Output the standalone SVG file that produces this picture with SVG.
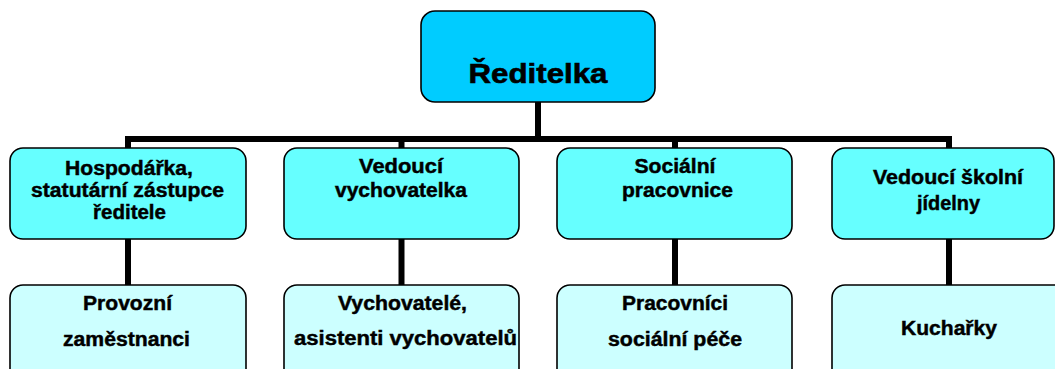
<svg xmlns="http://www.w3.org/2000/svg" width="1055" height="369" viewBox="0 0 1055 369">
<style>
.box{stroke:#000;stroke-width:1.6}
.top{fill:#00CCFF}
.l1{fill:#66FFFF}
.l2{fill:#CCFFFF}
.conn{stroke:#000;stroke-width:6;fill:none}
text{font-family:"Liberation Sans",Arial,sans-serif;font-weight:bold;fill:#000;stroke:#000;stroke-width:0.45;text-anchor:middle}
.t1{font-size:20px}
.t0{font-size:28px;stroke-width:0.6}
</style>
<rect width="1055" height="369" fill="#fff"/>
<g id="connectors">
<line class="conn" x1="538" y1="101" x2="538" y2="139"/>
<line class="conn" x1="125" y1="139" x2="952" y2="139"/>
<line class="conn" x1="128" y1="136" x2="128" y2="149"/>
<line class="conn" x1="401.5" y1="139" x2="401.5" y2="149"/>
<line class="conn" x1="675" y1="139" x2="675" y2="149"/>
<line class="conn" x1="949" y1="136" x2="949" y2="149"/>
<line class="conn" x1="128" y1="238" x2="128" y2="286"/>
<line class="conn" x1="401.5" y1="238" x2="401.5" y2="286"/>
<line class="conn" x1="675" y1="238" x2="675" y2="286"/>
<line class="conn" x1="949" y1="238" x2="949" y2="286"/>
</g>
<g id="reditelka">
<rect class="box top" x="421" y="11" width="234" height="91" rx="14"/>
<text class="t0" x="538" y="83" textLength="139" lengthAdjust="spacingAndGlyphs">Ředitelka</text>
</g>
<g id="hospodarka">
<rect class="box l1" x="10" y="148" width="236" height="91" rx="13"/>
<text class="t1" x="129" y="174.5" textLength="128" lengthAdjust="spacingAndGlyphs">Hospodářka,</text>
<text class="t1" x="127.5" y="196.5" textLength="193" lengthAdjust="spacingAndGlyphs">statutární zástupce</text>
<text class="t1" x="129.5" y="219" textLength="73" lengthAdjust="spacingAndGlyphs">ředitele</text>
</g>
<g id="vedouci-vychovatelka">
<rect class="box l1" x="284" y="148" width="235" height="91" rx="13"/>
<text class="t1" x="401" y="173" textLength="84" lengthAdjust="spacingAndGlyphs">Vedoucí</text>
<text class="t1" x="401" y="197" textLength="132" lengthAdjust="spacingAndGlyphs">vychovatelka</text>
</g>
<g id="socialni-pracovnice">
<rect class="box l1" x="557" y="148" width="235" height="91" rx="13"/>
<text class="t1" x="675" y="173" textLength="81" lengthAdjust="spacingAndGlyphs">Sociální</text>
<text class="t1" x="677.5" y="197" textLength="111" lengthAdjust="spacingAndGlyphs">pracovnice</text>
</g>
<g id="vedouci-jidelny">
<rect class="box l1" x="832" y="148" width="222" height="91" rx="13"/>
<text class="t1" x="948" y="183.5" textLength="150" lengthAdjust="spacingAndGlyphs">Vedoucí školní</text>
<text class="t1" x="948.5" y="209.5" textLength="63" lengthAdjust="spacingAndGlyphs">jídelny</text>
</g>
<g id="provozni">
<rect class="box l2" x="10" y="285" width="236" height="100" rx="13"/>
<text class="t1" x="127.5" y="310" textLength="89" lengthAdjust="spacingAndGlyphs">Provozní</text>
<text class="t1" x="126.5" y="346" textLength="127" lengthAdjust="spacingAndGlyphs">zaměstnanci</text>
</g>
<g id="vychovatele">
<rect class="box l2" x="284" y="285" width="235" height="100" rx="13"/>
<text class="t1" x="402.5" y="310" textLength="129" lengthAdjust="spacingAndGlyphs">Vychovatelé,</text>
<text class="t1" x="405.5" y="345" textLength="223" lengthAdjust="spacingAndGlyphs">asistenti vychovatelů</text>
</g>
<g id="pracovnici">
<rect class="box l2" x="557" y="285" width="235" height="100" rx="13"/>
<text class="t1" x="675" y="310" textLength="106" lengthAdjust="spacingAndGlyphs">Pracovníci</text>
<text class="t1" x="675" y="346" textLength="134" lengthAdjust="spacingAndGlyphs">sociální péče</text>
</g>
<g id="kucharky">
<rect class="box l2" x="832" y="285" width="240" height="100" rx="13"/>
<text class="t1" x="949" y="335" textLength="96" lengthAdjust="spacingAndGlyphs">Kuchařky</text>
</g>
</svg>
